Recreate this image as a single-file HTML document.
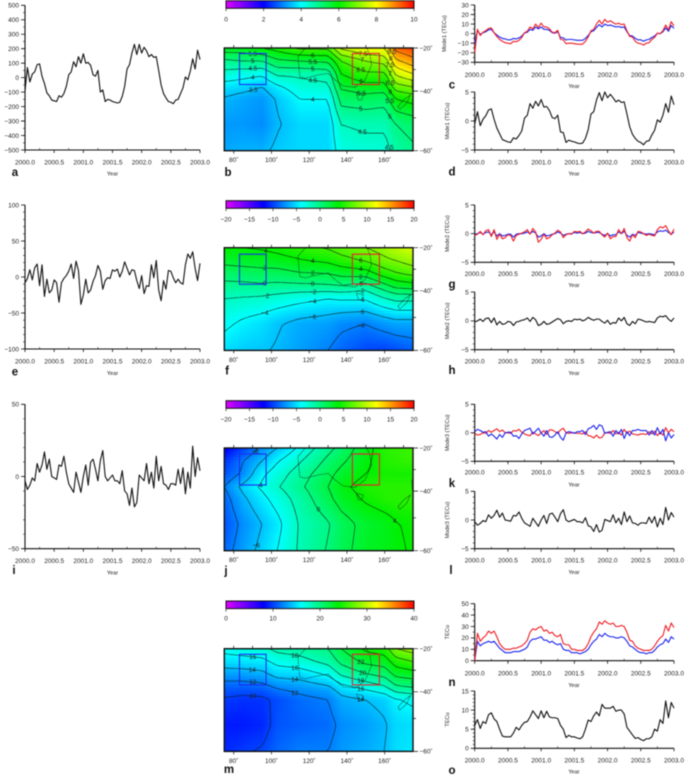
<!DOCTYPE html>
<html lang="en">
<head>
<meta charset="utf-8">
<title>Mode decomposition of TEC, 2000-2003</title>
<style>
html,body{margin:0;padding:0;background:#fff;}
#figure{display:block;width:685px;height:776px;filter:blur(0.45px);}
text{font-family:"Liberation Sans",sans-serif;fill:#222;}
</style>
</head>
<body>
<svg id="figure" xmlns="http://www.w3.org/2000/svg" width="685" height="776" viewBox="0 0 685 776"></svg>
<script>
/* ---------- time series values (73 samples, 2000.0 to 2003.0) ---------- */
var seriesA = [-90,70,-30,25,40,90,95,10,-40,-105,-125,-155,
-160,-165,-125,-135,-110,-60,20,40,110,75,145,100,
165,100,105,85,20,10,50,-100,-85,-165,-150,-155,
-165,-170,-175,-170,-130,-60,60,90,170,230,160,230,
170,210,185,145,160,140,145,50,-50,-110,-140,-165,
-170,-180,-155,-150,-110,-70,5,-15,45,130,60,190,125];
var seriesCRed = [-20,4.5,-2,1.5,3,5.5,6,1,-3,-6,-8,-9.5,
-10,-10.5,-8,-8.5,-7,-4,1,2.5,7,5,10,6.5,
11,7,7,5,1.5,1,3.5,-6,-6.5,-10.5,-10,-10,
-10.5,-11,-11,-11,-8,-3.5,3,4.5,10,14,10,15,
12,13.5,11.5,10,11,9.5,10,3,-3,-3.5,-8,-10,
-10.5,-12,-10,-9.5,-6,-4,0.5,0,3,9,4,12.5,8];
var seriesCBlue = [-10,3.5,-1,1,2,4,4.5,1,-1.5,-3.5,-5,-5.5,
-6.5,-6.5,-5,-5.5,-4.5,-2.5,0.7,1.5,4.5,3.5,7,5,
7,4.5,4.5,3.5,1,0.5,2,-4,-4.5,-6.5,-6,-6,
-6.5,-7,-7,-7,-5,-2,2,3,6.5,9.5,7,10,
8.5,9,8,7,7.5,6.5,7,2,-2,-2.5,-5,-6.5,
-6.5,-8,-6.5,-6,-4,-2.5,0.3,0,2,6,2.5,8.5,5.5];
var seriesD = [-0.5,1.6,-0.8,0.3,0.9,1.9,2.1,0.3,-1.2,-2.2,-3.2,-3.4,
-3.6,-3.7,-2.9,-3.1,-2.5,-1.7,0.5,1,3,2.2,3.4,2.6,
3.7,2.4,2.5,1.8,0.6,0.4,1,-1.9,-2,-3.7,-3.3,-3.5,
-3.6,-3.8,-3.9,-3.8,-3,-1.5,1.2,1.6,3.6,4.9,3.5,5,
4,4.6,4,3.3,3.6,3.2,3.3,1.2,-1,-2.3,-3,-3.5,
-3.7,-4.1,-3.5,-3.4,-2.4,-1.6,0.2,-0.2,1,3,1.5,4.3,2.8];
var seriesE = [-8,-2,10,-4,13,18,-12,17,-27,-3,-22,-18,
-4,-8,-35,-8,-2,2,8,18,-2,22,9,-38,
-25,-3,-22,-18,-6,2,16,8,-17,-5,-1,-2,
10,8,11,0,8,21,12,3,10,9,-5,-16,
2,-23,-12,-13,17,-1,23,-18,-33,-5,-17,9,
8,-1,-8,-3,-8,-10,17,32,26,35,12,-5,19];
var seriesGRed = [-0.3,-0.1,0.4,-0.2,0.5,0.7,-0.5,0.7,-1,-0.1,-0.9,-0.7,
-0.2,-0.3,-1.3,-0.3,-0.1,0.1,0.3,0.7,-0.1,0.9,0.3,-1.5,
-1,-0.1,-0.9,-0.7,-0.2,0.1,0.6,0.3,-0.7,-0.2,0,-0.1,
0.4,0.3,0.4,0,0.3,0.8,0.5,0.1,0.4,0.4,-0.2,-0.6,
0.1,-0.9,-0.5,-0.5,0.7,0,0.9,-0.7,-1.3,-0.2,-0.7,0.4,
0.3,0,-0.3,-0.1,-0.3,-0.4,0.7,1.2,1,1.4,0.5,-0.2,0.8];
var seriesGBlue = [-0.1,0,0.2,-0.1,0.2,0.3,-0.2,0.3,-0.4,0,-0.4,-0.3,
-0.1,-0.1,-0.6,-0.1,0,0,0.1,0.3,0,0.4,0.1,-0.6,
-0.4,0,-0.4,-0.3,-0.1,0,0.3,0.1,-0.3,-0.1,0,0,
0.2,0.1,0.2,0,0.1,0.4,0.2,0.1,0.2,0.2,-0.1,-0.3,
0,-0.4,-0.2,-0.2,0.3,0,0.4,-0.3,-0.6,-0.1,-0.3,0.2,
0.1,0,-0.1,0,-0.1,-0.2,0.3,0.5,0.4,0.6,0.2,-0.1,0.3];
var seriesH = [-0.2,0,0.3,-0.1,0.4,0.5,-0.3,0.5,-0.7,-0.1,-0.6,-0.5,
-0.1,-0.2,-0.8,-0.2,-0.1,0.1,0.2,0.5,-0.1,0.6,0.2,-0.8,
-0.6,-0.1,-0.6,-0.5,-0.2,0.1,0.4,0.2,-0.5,-0.1,0,-0.1,
0.3,0.2,0.3,0,0.2,0.6,0.3,0.1,0.3,0.3,-0.1,-0.4,
0.1,-0.6,-0.3,-0.4,0.5,0,0.6,-0.5,-0.8,-0.1,-0.5,0.3,
0.2,0,-0.2,-0.1,-0.2,-0.3,0.5,0.8,0.7,0.9,0.3,-0.1,0.5];
var seriesI = [-3,-9,-6,-1,-3,9,3,8,17,5,12,0,
-1,-2,8,7,14,3,-5,-8,-11,3,-4,-11,
0,8,-6,10,12,5,-3,11,18,0,-3,-1,
1,-3,-3,-5,4,-10,-12,-20,-8,-21,-18,1,
-1,-3,9,-5,3,-8,14,-3,7,-5,-6,-9,
-5,-5,-6,5,-5,6,-12,3,-8,21,0,13,4];
var seriesKBlue = [0.2,0.6,0.4,0.1,0.2,-0.6,-0.2,-0.6,-1.1,-0.3,-0.8,0,
0.1,0.1,-0.6,-0.5,-1,-0.2,0.4,0.6,0.8,-0.2,0.3,0.8,
0,-0.6,0.4,-0.7,-0.8,-0.4,0.2,-0.8,-1.3,0,0.2,0.1,
-0.1,0.2,0.2,0.4,-0.3,0.7,0.9,1.3,0.6,1.4,1.2,-0.1,
0.1,0.2,-0.6,0.4,-0.2,0.6,-1,0.2,-0.5,0.4,0.4,0.6,
0.4,0.4,0.4,-0.4,0.4,-0.4,0.9,-0.2,0.6,-1.4,0,-0.9,-0.3];
var seriesKRed = [-0.1,-0.4,-0.3,0,-0.1,0.4,0.1,0.4,0.7,0.2,0.5,0,
0,-0.1,0.4,0.3,0.6,0.1,-0.2,-0.4,-0.5,0.1,-0.2,-0.5,
0,0.4,-0.3,0.5,0.5,0.2,-0.1,0.5,0.8,0,-0.1,0,
0,-0.1,-0.1,-0.2,0.2,-0.5,-0.6,-0.9,-0.4,-0.9,-0.8,0,
0,-0.1,0.4,-0.2,0.1,-0.4,0.6,-0.1,0.3,-0.2,-0.3,-0.4,
-0.2,-0.2,-0.3,0.2,-0.2,0.3,-0.5,0.1,-0.4,0.9,0,0.6,0.2];
var seriesL = [-0.3,-0.9,-0.6,-0.1,-0.3,0.9,0.3,0.8,1.7,0.5,1.2,0,
-0.1,-0.2,0.8,0.7,1.4,0.3,-0.5,-0.8,-1.1,0.3,-0.4,-1.1,
0,0.8,-0.6,1,1.2,0.5,-0.3,1.1,1.8,0,-0.3,-0.1,
0.1,-0.3,-0.3,-0.5,0.4,-1,-1.2,-2,-0.8,-2.1,-1.8,0.1,
-0.1,-0.3,0.9,-0.5,0.3,-0.8,1.4,-0.3,0.7,-0.5,-0.6,-0.9,
-0.5,-0.5,-0.6,0.5,-0.5,0.6,-1.2,0.3,-0.8,2.2,0,1.3,0.5];
var seriesNRed = [0,24,17,20,22,26,24,26,21,15,12,10,
10,10,11,11,12,13,15,18,25,28,27,29,
30,26,27,24,25,22,21,23,15,14,14,10,
10,9,9,9,11,15,21,25,28,34,32,35,
33,32,33,30,30,31,30,25,18,17,13,11,
10,9,9,9,10,13,17,20,22,31,26,33,29];
var seriesNBlue = [0,17,13,15,16,17,16,17,14,11,9,7,
7,7,8,8,8,9,10,12,17,19,19,20,
21,18,18,16,17,15,14,15,10,9,9,7,
7,7,6,7,8,10,14,17,19,23,21,24,
22,21,21,20,20,21,20,17,13,12,10,8,
7,7,6,7,7,9,12,14,15,19,16,21,19];
var seriesO = [6,7.5,5.2,7,6.5,8.8,9.3,7.7,7,5,3.2,3,
3,3,4,5.5,4.8,6,6.8,7,8.2,9.8,8.8,7.8,
9.8,8,9.7,8.2,8,8,7.8,6,5,2.8,3.4,3,
3,2.7,2.5,3,5,7.4,7,8.5,9.5,8.5,11.5,10.5,
10.5,10.5,11,9.7,10,10,9,5.5,4.5,3.5,2.6,2.8,
2.3,2,2.5,2.5,3,5,4.5,7.5,6.5,12.4,8,12,10.5];

/* ---------- axis tick labels ---------- */
var yearTicks = [2000,2000.5,2001,2001.5,2002,2002.5,2003];
var yearMinor = [2000.25,2000.75,2001.25,2001.75,2002.25,2002.75];
var ticksA = [500,400,300,200,100,0,-100,-200,-300,-400,-500];
var ticksE = [100,50,0,-50,-100];
var ticksI = [50,0,-50];
var ticksC = [30,20,10,0,-10,-20,-30];
var ticksFive = [5,0,-5];
var ticksN = [50,40,30,20,10,0];
var ticksO = [15,10,5,0];
var colorTicksB = [0,2,4,6,8,10];
var colorTicksSigned = [-20,-15,-10,-5,0,5,10,15,20];
var colorTicksM = [0,10,20,30,40];
var lonTicks = [80,100,120,140,160];
var latTicks = [-20,-40,-60];

/* ---------- map grids: rows by latitude, columns by longitude ---------- */
var mapLons = [75,85,95,103,115,130,137,150,160,166,175];
var mapLats = [-20,-26,-32,-38,-43,-52,-60];
var mapB = [
[5.8,5.8,6,6.2,6.6,6.6,7.6,8,8,9.2,9.5],
[4.9,5,5,5.4,5.5,5.6,6.5,7,7.2,8.4,8.8],
[4.3,4.2,4.1,4.6,4.6,4.7,6,6.4,6.4,7.6,8],
[3.8,3.7,3.5,3.9,4.3,4.4,5.6,5.8,5.8,6.8,7],
[3.45,3.3,3.2,3.55,4,4,5.2,5.3,5.2,6,6.2],
[3.2,3.2,3.1,3.45,3.7,3.7,4.5,4.6,4.6,5,5.2],
[3.3,3.4,3.4,3.6,3.7,3.7,4.2,4.3,4.3,4.7,4.9]];
var mapF = [
[4,4,4.2,4.6,5.4,6.2,7,8,9,10,11],
[2.6,2.8,3,3.2,3.8,4.4,5.2,6.2,7.5,8,9],
[0.8,1,1.2,1.2,1.8,2,2.6,3,5,5.8,6.5],
[-0.6,-0.6,-0.4,-0.6,-0.6,-0.4,-0.2,-1,1.2,2.5,3],
[-2,-2.2,-2.4,-2.8,-3.4,-4,-3.8,-3.8,-2.2,-1.5,-1.5],
[-3.6,-4.4,-5,-5.8,-6.6,-7,-7.6,-8,-7.2,-6.8,-6.8],
[-5,-5.6,-5.8,-6.2,-7,-8,-8.8,-9.8,-10,-9.6,-9]];
var mapJ = [
[-12.5,-10,-7.5,-6,-3.6,-0.6,0.6,3.2,5.2,5.6,6],
[-10.5,-8,-6,-4.2,-2.2,0.5,1.6,3.6,5,5.3,5.6],
[-9.5,-7.6,-4.4,-3,-1,1.4,2.6,4,4.6,4.6,4.6],
[-8,-5.4,-3.6,-2.2,-0.4,2,3.4,5,5.2,5.2,5.2],
[-8.8,-6.4,-4.6,-3.2,-1.2,1.5,2.8,4.3,5,5.2,5.2],
[-9.4,-7.5,-6,-4.6,-1.8,-0.2,1.2,2.6,3.2,3.9,4.3],
[-8.8,-7,-5.4,-4,-1.7,0.2,1.4,2.8,3.3,3.7,4.2]];
var mapM = [
[16.6,17,17.4,18.6,19,20,22,24.4,25,28,29],
[15,15.2,15.4,16.6,17.2,18.6,20.5,22.5,23,25,26],
[13,13,13.4,14.6,14.8,16.2,18.2,19.8,20.6,22.5,23],
[11,11,11.2,12.2,12.8,13.6,15.2,16.5,17.6,19.5,20],
[9.8,9.5,9.6,10.4,11.4,12,13.4,14,14.6,15.8,16.4],
[8.8,8.8,9.2,10.6,11,11.4,12.4,13,13.8,14.8,15],
[9.2,9.8,10.2,11.2,12,12,12.8,13.4,14,15,15.4]];
var levelsB = [3.5,4,4.5,5,5.5,6,6.5,7,7.5,8,8.5,9];
var levelsSigned = [-8,-6,-4,-2,0,2,4,6,8];
var levelsM = [10,12,14,16,18,20,22,24,26,28];

/* ---------- coastline outlines (longitude, latitude) ---------- */
var coastAustraliaLon = [118,114,115,117.8,124.8,130,133.7,138,144.3,149.6,153,152.2,150.5];
var coastAustraliaLat = [-20,-24,-33.3,-34,-32.5,-31.8,-34.8,-37.6,-38.2,-34.8,-27.9,-23.2,-20];
var coastTasmaniaLon = [145,148.7,147.8,146,145];
var coastTasmaniaLat = [-40.8,-41.5,-43.3,-43.3,-40.8];
var coastNewZealandLon = [167,170,173.5,171.7,168,167];
var coastNewZealandLat = [-45.8,-43.3,-41.5,-44.5,-46.8,-45.8];
var coastNorthIslandLon = [174.3,174.6];
var coastNorthIslandLat = [-34.8,-39.5];

/* ---------- helpers ---------- */
var svg = document.getElementById('figure');
var NS = 'http://www.w3.org/2000/svg';
function mk(parent, tag, attrs) {
  var el = document.createElementNS(NS, tag);
  for (var k in attrs) { el.setAttribute(k, attrs[k]); }
  parent.appendChild(el);
  return el;
}
function fmt(v) { return v < 0 ? '\u2212' + Math.abs(v) : String(v); }
function addText(parent, x, y, str, size, anchor, weight) {
  var t = mk(parent, 'text', {x: x, y: y, 'font-size': size, 'text-anchor': anchor || 'middle', 'font-weight': weight || 'normal'});
  t.textContent = str;
  return t;
}
var RED = '#f01c24', BLUE = '#1c24f0', BLACK = '#111';

/* ---------- line charts ---------- */
function drawChart(c) {
  var g = mk(svg, 'g', {});
  
  
  function sx(year) { return c.x0 + (year - 2000) / 3 * (c.x1 - c.x0); }
  function sy(v) { return c.yTop + (c.yMax - v) / (c.yMax - c.yMin) * (c.yBot - c.yTop); }
  var axisPath = 'M' + c.x0 + ' ' + c.yTop + 'V' + c.yBot + 'H' + c.x1;
  var tickPath = '';
  var gt = mk(g, 'g', {});
  
  
  c.ticks.forEach(function (v) {
    tickPath += 'M' + (c.x0 - 4) + ' ' + sy(v) + 'H' + c.x0;
    var t = addText(gt, c.x0 - 6, sy(v) + 2.3, fmt(v), 6.5, 'end');
    
    
  });
  var minorPath = '';
  for (var m = c.yMin; m <= c.yMax + 1e-9; m += c.minor) {
    minorPath += 'M' + (c.x0 - 2) + ' ' + sy(m) + 'H' + c.x0;
  }
  var gx = mk(g, 'g', {});
  
  
  yearTicks.forEach(function (y) {
    tickPath += 'M' + sx(y) + ' ' + c.yBot + 'v3';
    var t = addText(gx, sx(y), c.labelY + 2.3, y.toFixed(1), 6.5);
    
    
  });
  yearMinor.forEach(function (y) {
    minorPath += 'M' + sx(y) + ' ' + c.yBot + 'v-2';
  });
  var minorEl = mk(g, 'path', {d: minorPath, stroke: '#222', 'stroke-width': 0.6, fill: 'none'});
  
  
  var tickEl = mk(g, 'path', {d: tickPath, stroke: '#111', 'stroke-width': 0.8, fill: 'none'});
  
  
  var axisEl = mk(g, 'path', {d: axisPath, stroke: '#111', 'stroke-width': 1.1, fill: 'none'});
  
  
  c.series.forEach(function (s) {
    var n = s.values.length;
    var pts = s.values.map(function (v, i) {
      return sx(2000 + 3 * i / (n - 1)).toFixed(2) + ',' + sy(v).toFixed(2);
    }).join(' ');
    var line = mk(g, 'polyline', {points: pts, fill: 'none', stroke: s.color, 'stroke-width': 1.1, 'stroke-linejoin': 'round'});
    
    
  });
  var yearLabel = addText(g, c.yearX, c.yearY + 2, 'Year', 5.6);
  
  
  if (c.title) {
    var ty = (c.yTop + c.yBot) / 2;
    var title = addText(g, 0, 0, c.title, 5.6);
    title.setAttribute('transform', 'translate(' + c.titleX + ' ' + ty + ') rotate(-90)');
    
    
  }
  var letter = addText(g, c.letterX, c.letterY + 4, c.id, 11.5, 'middle', 'bold');
  
  
  letter.setAttribute('style', 'fill:#111');
}

var LX0 = 25, LX1 = 200, RX0 = 474.7, RX1 = 674;
drawChart({id:'a',x0:LX0,x1:LX1,yTop:5.3,yBot:150,yMax:500,yMin:-500,ticks:ticksA,minor:50,labelY:162,yearX:112.5,yearY:173.5,letterX:15,letterY:172,
  series:[{values:seriesA,color:BLACK,name:'mode1-line'}]});
drawChart({id:'e',x0:LX0,x1:LX1,yTop:205,yBot:349,yMax:100,yMin:-100,ticks:ticksE,minor:10,labelY:361,yearX:112.5,yearY:373,letterX:15,letterY:371.5,
  series:[{values:seriesE,color:BLACK,name:'mode2-line'}]});
drawChart({id:'i',x0:LX0,x1:LX1,yTop:404.3,yBot:548.7,yMax:50,yMin:-50,ticks:ticksI,minor:10,labelY:560.7,yearX:112.5,yearY:572.5,letterX:14,letterY:570,
  series:[{values:seriesI,color:BLACK,name:'mode3-line'}]});
drawChart({id:'c',x0:RX0,x1:RX1,yTop:5,yBot:62.3,yMax:30,yMin:-30,ticks:ticksC,minor:5,labelY:74.7,yearX:574,yearY:86,letterX:452,letterY:84.5,title:'Mode1 (TECu)',titleX:446,
  series:[{values:seriesCBlue,color:BLUE,name:'mode1-blue-box-line'},{values:seriesCRed,color:RED,name:'mode1-red-box-line'}]});
drawChart({id:'d',x0:RX0,x1:RX1,yTop:92,yBot:150,yMax:5,yMin:-5,ticks:ticksFive,minor:1,labelY:162,yearX:574,yearY:173.7,letterX:452,letterY:171.5,title:'Mode1 (TECu)',titleX:449,
  series:[{values:seriesD,color:BLACK,name:'mode1-difference-line'}]});
drawChart({id:'g',x0:RX0,x1:RX1,yTop:205,yBot:262.3,yMax:5,yMin:-5,ticks:ticksFive,minor:1,labelY:273.7,yearX:574,yearY:285,letterX:452,letterY:284,title:'Mode2 (TECu)',titleX:449,
  series:[{values:seriesGBlue,color:BLUE,name:'mode2-blue-box-line'},{values:seriesGRed,color:RED,name:'mode2-red-box-line'}]});
drawChart({id:'h',x0:RX0,x1:RX1,yTop:292,yBot:349.7,yMax:5,yMin:-5,ticks:ticksFive,minor:1,labelY:361,yearX:574,yearY:373,letterX:452,letterY:370,title:'Mode2 (TECu)',titleX:449,
  series:[{values:seriesH,color:BLACK,name:'mode2-difference-line'}]});
drawChart({id:'k',x0:RX0,x1:RX1,yTop:404.3,yBot:461.3,yMax:5,yMin:-5,ticks:ticksFive,minor:1,labelY:472,yearX:574,yearY:484.7,letterX:452,letterY:483,title:'Mode3 (TECu)',titleX:449,
  series:[{values:seriesKRed,color:RED,name:'mode3-red-box-line'},{values:seriesKBlue,color:BLUE,name:'mode3-blue-box-line'}]});
drawChart({id:'l',x0:RX0,x1:RX1,yTop:491.3,yBot:548.7,yMax:5,yMin:-5,ticks:ticksFive,minor:1,labelY:560,yearX:574,yearY:572,letterX:451,letterY:570,title:'Mode3 (TECu)',titleX:449,
  series:[{values:seriesL,color:BLACK,name:'mode3-difference-line'}]});
drawChart({id:'n',x0:RX0,x1:RX1,yTop:603.7,yBot:660.7,yMax:50,yMin:0,ticks:ticksN,minor:5,labelY:673,yearX:574,yearY:685,letterX:452,letterY:682,title:'TECu',titleX:449,
  series:[{values:seriesNBlue,color:BLUE,name:'total-blue-box-line'},{values:seriesNRed,color:RED,name:'total-red-box-line'}]});
drawChart({id:'o',x0:RX0,x1:RX1,yTop:691,yBot:748.3,yMax:15,yMin:0,ticks:ticksO,minor:1,labelY:760,yearX:574,yearY:771.7,letterX:452,letterY:770,title:'TECu',titleX:449,
  series:[{values:seriesO,color:BLACK,name:'total-difference-line'}]});

/* ---------- colour scale ---------- */
var colorStops = [[224,0,255],[0,0,255],[0,255,255],[0,240,0],[255,255,0],[255,0,0]];
function colorAt(f) {
  f = Math.max(0, Math.min(1, f));
  var p = f * (colorStops.length - 1), i = Math.min(colorStops.length - 2, Math.floor(p)), t = p - i;
  var a = colorStops[i], b = colorStops[i + 1];
  return 'rgb(' + Math.round(a[0] + (b[0] - a[0]) * t) + ',' + Math.round(a[1] + (b[1] - a[1]) * t) + ',' + Math.round(a[2] + (b[2] - a[2]) * t) + ')';
}

/* ---------- maps ---------- */
var MX0 = 224.3, MX1 = 413, MH = 102.7;
function latFrac(lat) {
  var a = -lat;
  if (a <= 40) { return (a - 20) / 20 * 0.42; }
  if (a <= 50) { return 0.42 + (a - 40) / 10 * 0.26; }
  return 0.68 + (a - 50) / 10 * 0.32;
}
function sample(grid, lon, lat) {
  var i = 0, j = 0;
  while (i < mapLons.length - 2 && lon > mapLons[i + 1]) { i++; }
  while (j < mapLats.length - 2 && lat < mapLats[j + 1]) { j++; }
  var tx = (lon - mapLons[i]) / (mapLons[i + 1] - mapLons[i]);
  var ty = (lat - mapLats[j]) / (mapLats[j + 1] - mapLats[j]);
  var top = grid[j][i] + (grid[j][i + 1] - grid[j][i]) * tx;
  var bot = grid[j + 1][i] + (grid[j + 1][i + 1] - grid[j + 1][i]) * tx;
  return top + (bot - top) * ty;
}
function fracToLat(f) {
  if (f <= 0.42) { return -20 - 20 * f / 0.42; }
  if (f <= 0.68) { return -40 - 10 * (f - 0.42) / 0.26; }
  return -50 - 10 * (f - 0.68) / 0.32;
}
function drawMap(m) {
  var g = mk(svg, 'g', {});
  
  
  var top = m.top, bot = m.top + MH;
  function px(lon) { return MX0 + (lon - 75) / 100 * (MX1 - MX0); }
  function py(lat) { return top + latFrac(lat) * MH; }
  function norm(v) { return (v - m.cMin) / (m.cMax - m.cMin); }
  /* colour bar */
  var bar = mk(g, 'g', {});
  
  
  var CX0 = 226, CX1 = 414, barN = 94;
  for (var b = 0; b < barN; b++) {
    var seg = mk(bar, 'rect', {x: CX0 + b * (CX1 - CX0) / barN, y: m.barY, width: (CX1 - CX0) / barN + 0.5, height: 7.6, fill: colorAt((b + 0.5) / barN), 'shape-rendering': 'crispEdges'});
    
    
  }
  var barFrame = mk(bar, 'rect', {x: CX0, y: m.barY, width: CX1 - CX0, height: 7.6, fill: 'none', stroke: '#111', 'stroke-width': 1});
  
  
  m.colorTicks.forEach(function (v) {
    var x = CX0 + norm(v) * (CX1 - CX0);
    var tk = mk(bar, 'path', {d: 'M' + x + ' ' + (m.barY + 7.6) + 'v3', stroke: '#111', 'stroke-width': 0.6});
    
    
    var lb = addText(bar, x, m.barLabelY + 2.3, fmt(v), 6.5);
    
    
  });
  /* heatmap cells */
  var heat = mk(g, 'g', {});
  
  
  var step = 3, nx = Math.ceil((MX1 - MX0) / step), ny = Math.ceil(MH / step);
  function lonOf(ix) { return 75 + Math.min(1, ix * step / (MX1 - MX0)) * 100; }
  function latOf(iy) { return fracToLat(Math.min(1, iy * step / MH)); }
  for (var iy = 0; iy < ny; iy++) {
    for (var ix = 0; ix < nx; ix++) {
      var cv = sample(m.grid, lonOf(ix + 0.5), latOf(iy + 0.5));
      var w = Math.min(step + 0.4, MX1 - MX0 - ix * step), h = Math.min(step + 0.4, MH - iy * step);
      var cell = mk(heat, 'rect', {x: MX0 + ix * step, y: top + iy * step, width: w, height: h, fill: colorAt(norm(cv)), 'shape-rendering': 'crispEdges'});
      
      
    }
  }
  /* contours by marching squares over the sampled field */
  var field = [];
  for (var yy = 0; yy <= ny; yy++) {
    field.push([]);
    for (var xx = 0; xx <= nx; xx++) {
      field[yy].push(sample(m.grid, lonOf(xx), latOf(yy)));
    }
  }
  function vx(ix) { return Math.min(MX1, MX0 + ix * step); }
  function vy(iy) { return Math.min(bot, top + iy * step); }
  var contours = mk(g, 'g', {});
  
  
  m.levels.forEach(function (lv) {
    var d = '', mids = [];
    for (var y = 0; y < ny; y++) {
      for (var x = 0; x < nx; x++) {
        var a = field[y][x], c = field[y][x + 1], e = field[y + 1][x + 1], f = field[y + 1][x];
        var pts = [];
        if ((a < lv) !== (c < lv)) { pts.push([vx(x) + (lv - a) / (c - a) * (vx(x + 1) - vx(x)), vy(y)]); }
        if ((c < lv) !== (e < lv)) { pts.push([vx(x + 1), vy(y) + (lv - c) / (e - c) * (vy(y + 1) - vy(y))]); }
        if ((f < lv) !== (e < lv)) { pts.push([vx(x) + (lv - f) / (e - f) * (vx(x + 1) - vx(x)), vy(y + 1)]); }
        if ((a < lv) !== (f < lv)) { pts.push([vx(x), vy(y) + (lv - a) / (f - a) * (vy(y + 1) - vy(y))]); }
        if (pts.length >= 2) {
          d += 'M' + pts[0][0].toFixed(1) + ' ' + pts[0][1].toFixed(1) + 'L' + pts[1][0].toFixed(1) + ' ' + pts[1][1].toFixed(1);
          mids.push([(pts[0][0] + pts[1][0]) / 2, (pts[0][1] + pts[1][1]) / 2]);
        }
        if (pts.length === 4) {
          d += 'M' + pts[2][0].toFixed(1) + ' ' + pts[2][1].toFixed(1) + 'L' + pts[3][0].toFixed(1) + ' ' + pts[3][1].toFixed(1);
        }
      }
    }
    if (!d) { return; }
    var cl = mk(contours, 'path', {d: d, fill: 'none', stroke: '#0c1c14', 'stroke-width': 0.6, opacity: 0.9});
    
    
    m.labelLons.forEach(function (lon) {
      var tx = px(lon), best = null, bd = 5;
      mids.forEach(function (p) {
        var dd = Math.abs(p[0] - tx);
        if (dd < bd && p[1] > top + 3 && p[1] < bot - 3) { bd = dd; best = p; }
      });
      if (best) {
        var lbl = addText(contours, best[0], best[1] + 2.2, fmt(lv), 6.4);
        
        
      }
    });
  });
  /* coastlines */
  function coastPath(lons, lats) {
    return lons.map(function (lon, i) { return (i ? 'L' : 'M') + px(lon).toFixed(1) + ' ' + py(lats[i]).toFixed(1); }).join('');
  }
  var coast = mk(g, 'path', {d: coastPath(coastAustraliaLon, coastAustraliaLat) + coastPath(coastTasmaniaLon, coastTasmaniaLat) + coastPath(coastNewZealandLon, coastNewZealandLat) + coastPath(coastNorthIslandLon, coastNorthIslandLat), fill: 'none', stroke: '#0c1c14', 'stroke-width': 0.55, 'stroke-dasharray': '1.6 0.8'});
  
  
  /* study boxes */
  var blueBox = mk(g, 'rect', {x: 239.5, y: top + m.boxTop, width: 26.6, height: m.boxH, fill: 'none', stroke: '#1c2cf0', 'stroke-width': 1.1});
  
  
  var redBox = mk(g, 'rect', {x: 352.4, y: top + m.boxTop, width: 27, height: m.boxH, fill: 'none', stroke: '#e8202c', 'stroke-width': 1.1});
  
  
  /* frame and ticks */
  var frame = mk(g, 'rect', {x: MX0, y: top, width: MX1 - MX0, height: MH, fill: 'none', stroke: '#111', 'stroke-width': 1.4});
  
  
  var td = '';
  for (var lon = 80; lon <= 170; lon += 10) { td += 'M' + px(lon) + ' ' + top + 'v-3'; }
  lonTicks.forEach(function (lon) {
    td += 'M' + px(lon) + ' ' + bot + 'v3';
    var lb = addText(g, px(lon), bot + 11.5, lon + '\u02da', 6.5);
    
    
  });
  latTicks.forEach(function (lat) {
    td += 'M' + MX1 + ' ' + py(lat) + 'h5';
    var lb = addText(g, MX1 + 6.5, py(lat) + 2.3, fmt(lat) + '\u02da', 6.5, 'start');
    
    
  });
  td += 'M' + MX1 + ' ' + py(-30) + 'h3M' + MX1 + ' ' + py(-50) + 'h3';
  var tickEl = mk(g, 'path', {d: td, stroke: '#111', 'stroke-width': 0.7, fill: 'none'});
  
  
  var letter = addText(g, m.letterX, m.letterY + 4, m.id, 11.5, 'middle', 'bold');
  
  
  letter.setAttribute('style', 'fill:#111');
}
drawMap({id:'b',top:48,grid:mapB,cMin:0,cMax:10,barY:0.7,barLabelY:19,colorTicks:colorTicksB,levels:levelsB,labelLons:[90,122,148,163],boxTop:5.5,boxH:31,letterX:228,letterY:172});
drawMap({id:'f',top:247.7,grid:mapF,cMin:-20,cMax:20,barY:200.7,barLabelY:219,colorTicks:colorTicksSigned,levels:levelsSigned,labelLons:[97,122,148],boxTop:6.5,boxH:30,letterX:227,letterY:370.5});
drawMap({id:'j',top:448,grid:mapJ,cMin:-20,cMax:20,barY:400.7,barLabelY:419,colorTicks:colorTicksSigned,levels:levelsSigned,labelLons:[92,125,165],boxTop:6,boxH:31,letterX:226,letterY:570.5});
drawMap({id:'m',top:648.7,grid:mapM,cMin:0,cMax:40,barY:601,barLabelY:618.3,colorTicks:colorTicksM,levels:levelsM,labelLons:[90,112,148],boxTop:5.6,boxH:30.6,letterX:229,letterY:769});
</script>
</body>
</html>
